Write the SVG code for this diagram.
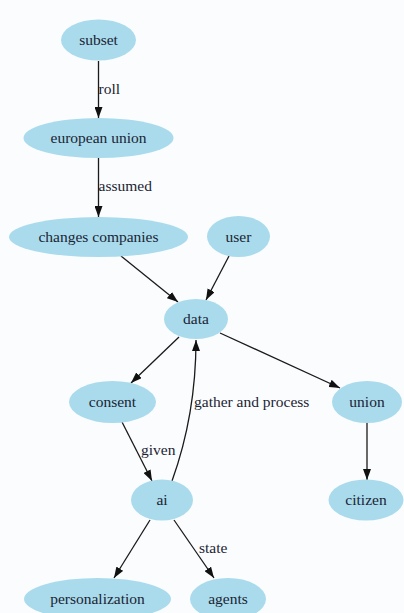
<svg xmlns="http://www.w3.org/2000/svg" width="404" height="613" viewBox="0 0 404 613" font-family="'Liberation Serif', 'Times New Roman', Times, serif">
<style>
.node ellipse{fill:#a9dbed;stroke:none}
.node text{font-family:'Liberation Serif','Times New Roman',Times,serif;font-size:15.5px;fill:#1b2433;text-anchor:middle}
.edge{fill:none;stroke:#1a1a1a;stroke-width:1.3;marker-end:url(#arr)}
.lbl{font-family:'Liberation Serif','Times New Roman',Times,serif;font-size:15.5px;fill:#1b2433}
</style>
<defs>
<marker id="arr" markerUnits="userSpaceOnUse" markerWidth="11" markerHeight="8" refX="11" refY="4" orient="auto">
<path d="M0,0 L11,4 L0,8 z" fill="#111"/>
</marker>
</defs>
<rect width="404" height="613" fill="#fbfcfe"/>
<g id="connectors">
<path class="edge" d="M98.5,61 L98.5,118"/>
<path class="edge" d="M98.5,158 L98.5,217"/>
<path class="edge" d="M121,256 L178,302"/>
<path class="edge" d="M229,256 L206,300"/>
<path class="edge" d="M179,337 L131,383"/>
<path class="edge" d="M220,333 L340,388"/>
<path class="edge" d="M122,422 L152,481"/>
<path class="edge" d="M172,481 C185,445 196,400 196,340"/>
<path class="edge" d="M367,423 L367,480"/>
<path class="edge" d="M150,520 L114,578"/>
<path class="edge" d="M174,520 L214,578"/>
<text class="lbl" x="98.5" y="94">roll</text>
<text class="lbl" x="98.5" y="191">assumed</text>
<text class="lbl" x="141" y="455">given</text>
<text class="lbl" x="194" y="407">gather and process</text>
<text class="lbl" x="199" y="553">state</text>
</g>
<g id="n-subset" class="node"><ellipse cx="98.5" cy="40" rx="37.5" ry="20.5"/><text x="98.5" y="45">subset</text></g>
<g id="n-european-union" class="node"><ellipse cx="98.5" cy="138" rx="75" ry="20"/><text x="98.5" y="143">european union</text></g>
<g id="n-changes-companies" class="node"><ellipse cx="98.5" cy="237" rx="89.5" ry="20"/><text x="98.5" y="242">changes companies</text></g>
<g id="n-user" class="node"><ellipse cx="238.5" cy="236.5" rx="31.5" ry="20.5"/><text x="238.5" y="241.5">user</text></g>
<g id="n-data" class="node"><ellipse cx="196" cy="319" rx="32" ry="20"/><text x="196" y="324">data</text></g>
<g id="n-consent" class="node"><ellipse cx="112.5" cy="402" rx="43.5" ry="21"/><text x="112.5" y="407">consent</text></g>
<g id="n-union" class="node"><ellipse cx="367" cy="402" rx="35" ry="21"/><text x="367" y="407">union</text></g>
<g id="n-ai" class="node"><ellipse cx="162" cy="500" rx="31" ry="20.5"/><text x="162" y="505">ai</text></g>
<g id="n-citizen" class="node"><ellipse cx="366" cy="500" rx="37.5" ry="20.5"/><text x="366" y="505">citizen</text></g>
<g id="n-personalization" class="node"><ellipse cx="97.5" cy="599" rx="73.5" ry="21"/><text x="97.5" y="604">personalization</text></g>
<g id="n-agents" class="node"><ellipse cx="228" cy="599" rx="38" ry="21"/><text x="228" y="604">agents</text></g>
</svg>
